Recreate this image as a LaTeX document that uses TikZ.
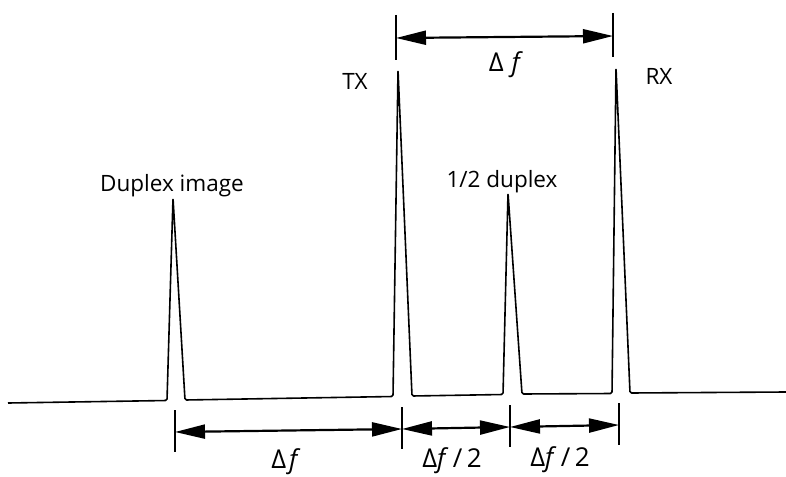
\documentclass[tikz,border=0pt]{standalone}
\usepackage{fontspec}
\setmainfont{Open Sans}
\usetikzlibrary{arrows.meta}
\begin{document}
\begin{tikzpicture}[x=1pt,y=-1pt,
  trace/.style={line width=1.6pt, line join=round, rounded corners=1.5pt},
  tickline/.style={line width=1.1pt},
  dimline/.style={line width=2.2pt, {Triangle[length=30pt,width=14pt]}-{Triangle[length=30pt,width=14pt]}},
  lbl/.style={font=\fontsize{22.5}{26}\selectfont, anchor=base, inner sep=0pt},
  dlbl/.style={font=\fontsize{26}{30}\selectfont, anchor=base, inner sep=0pt}]
\useasboundingbox (0,0) rectangle (786,476);

% peaks
\coordinate (pDI) at (173,198);
\coordinate (pTX) at (398,70);
\coordinate (pHD) at (508,193);
\coordinate (pRX) at (616,68);
\coordinate (bL) at (8,403);
\coordinate (bR) at (786,392);

\draw[trace] (bL) -- (167,400.5) -- (pDI) -- (185,400) -- (393,396.5) -- (pTX) -- (412,396)
  -- (503,394.5) -- (pHD) -- (522,394) -- (612,393.5) -- (pRX) -- (630,393) -- (bR);

% top dimension
\coordinate (ta1) at (396,15);  \coordinate (tb1) at (396,60);
\coordinate (ta2) at (613,13);  \coordinate (tb2) at (613,57);
\coordinate (tm1) at (396,38);  \coordinate (tm2) at (613,36);
\draw[tickline] (ta1) -- (tb1);
\draw[tickline] (ta2) -- (tb2);
\draw[dimline] (tm1) -- (tm2);

% bottom dimensions
\coordinate (ua1) at (175,410); \coordinate (ub1) at (175,452);
\coordinate (ua2) at (402,407); \coordinate (ub2) at (402,449);
\coordinate (ua3) at (510,405); \coordinate (ub3) at (510,447);
\coordinate (ua4) at (619,403); \coordinate (ub4) at (619,445);
\coordinate (um1) at (175,432); \coordinate (um2) at (402,429);
\coordinate (um3) at (510,427); \coordinate (um4) at (619,425);
\draw[tickline] (ua1) -- (ub1);
\draw[tickline] (ua2) -- (ub2);
\draw[tickline] (ua3) -- (ub3);
\draw[tickline] (ua4) -- (ub4);
\draw[dimline] (um1) -- (um2);
\draw[dimline] (um2) -- (um3);
\draw[dimline] (um3) -- (um4);

% labels
\node[lbl] (ldi) at (172,191) {Duplex image};
\node[lbl] (ltx) at (355,90) {TX};
\node[lbl] (lrx) at (659,85) {RX};
\node[lbl] (lhd) at (502,187) {1/2 duplex};
\node[dlbl] (ldt) at (506,72) {Δ\hspace{8pt}\textit{f}};
\node[dlbl] (ld1) at (286,468) {Δ\hspace{3pt}\textit{f}};
\node[dlbl] (ld2) at (452,467) {Δ\textit{f}\,/\,2};
\node[dlbl] (ld3) at (560,466) {Δ\textit{f}\,/\,2};
\end{tikzpicture}
\end{document}
